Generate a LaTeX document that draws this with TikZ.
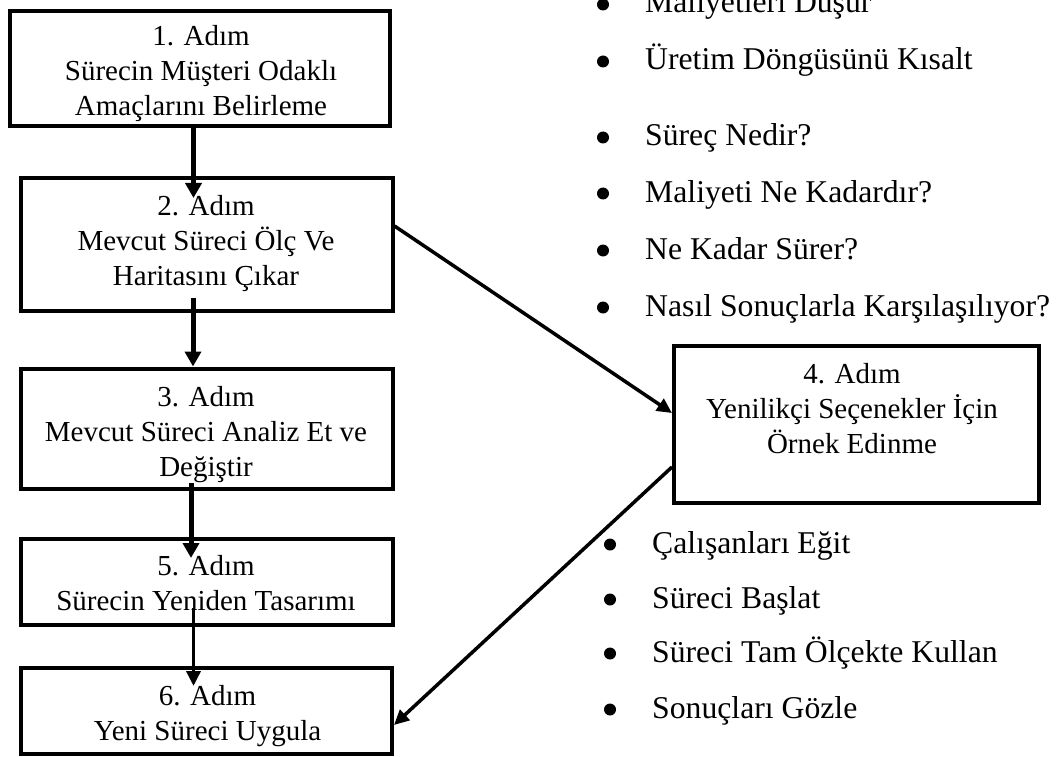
\documentclass[tikz,border=0pt]{standalone}
\usepackage{fontspec}
\setmainfont{Liberation Serif}
\usetikzlibrary{arrows.meta}
\begin{document}
\begin{tikzpicture}[x=1pt,y=-1pt,
  stepbox/.style={draw,line width=4pt,inner sep=0pt},
  steptext/.style={anchor=base,inner sep=0pt,font=\fontsize{29pt}{35pt}\selectfont},
  item/.style={anchor=base west,inner sep=0pt,font=\fontsize{31.7pt}{38pt}\selectfont},
  arr/.style={-{Triangle[length=15pt,width=16pt]},line width=5pt},
  arrthin/.style={-{Triangle[length=15pt,width=14pt]},line width=3.5pt}]
\fill[white] (0,0) rectangle (1058,757);
\useasboundingbox (0,0) rectangle (1058,757);
\clip (0,0) rectangle (1058,757);

% boxes
\node[stepbox,minimum width=380pt,minimum height=115pt] (b1) at (200,68.5) {};
\node[stepbox,minimum width=372pt,minimum height=132pt] (b2) at (206.5,244.5) {};
\node[stepbox,minimum width=372pt,minimum height=120pt] (b3) at (206.5,428.5) {};
\node[stepbox,minimum width=365pt,minimum height=156.5pt] (b4) at (856.5,424.25) {};
\node[stepbox,minimum width=372pt,minimum height=86.5pt] (b5) at (206.5,581.8) {};
\node[stepbox,minimum width=371pt,minimum height=86.5pt] (b6) at (206.5,710.8) {};

% box texts
\node[steptext] (t1) at (201,46) {\begin{tabular}[t]{@{}c@{}}1. Adım\\Sürecin Müşteri Odaklı\\Amaçlarını Belirleme\end{tabular}};
\node[steptext] (t2) at (206,215) {\begin{tabular}[t]{@{}c@{}}2. Adım\\Mevcut Süreci Ölç Ve\\Haritasını Çıkar\end{tabular}};
\node[steptext] (t3) at (206,406) {\begin{tabular}[t]{@{}c@{}}3. Adım\\Mevcut Süreci Analiz Et ve\\Değiştir\end{tabular}};
\node[steptext] (t4) at (852,383) {\begin{tabular}[t]{@{}c@{}}4. Adım\\Yenilikçi Seçenekler İçin\\Örnek Edinme\end{tabular}};
\node[steptext] (t5) at (206,575) {\begin{tabular}[t]{@{}c@{}}5. Adım\\Sürecin Yeniden Tasarımı\end{tabular}};
\node[steptext] (t6) at (207.5,705) {\begin{tabular}[t]{@{}c@{}}6. Adım\\Yeni Süreci Uygula\end{tabular}};

% bullet lists
\node[item] (u1) at (645,13) {Maliyetleri Düşür};
\node[item] (u2) at (645,70) {Üretim Döngüsünü Kısalt};
\node[item] (m1) at (645,146) {Süreç Nedir?};
\node[item] (m2) at (645,202) {Maliyeti Ne Kadardır?};
\node[item] (m3) at (645,259) {Ne Kadar Sürer?};
\node[item] (m4) at (645,316) {Nasıl Sonuçlarla Karşılaşılıyor?};
\node[item] (l1) at (652,553) {Çalışanları Eğit};
\node[item] (l2) at (652,608) {Süreci Başlat};
\node[item] (l3) at (652,662) {Süreci Tam Ölçekte Kullan};
\node[item] (l4) at (652,718) {Sonuçları Gözle};
\foreach \n in {u1,u2,m1,m2,m3,m4,l1,l2,l3,l4}
  \fill (\n.base west) ++(-42,-8.5) circle (6pt);

% connectors
\coordinate (e12) at (193.5,198);
\draw[arr] (b1.south -| e12) -- (e12);
\coordinate (s23) at (193,298);
\draw[arr] (s23) -- (s23 |- b3.north);
\coordinate (s35) at (191,483);
\coordinate (e35) at (191,558);
\draw[arr] (s35) -- (e35);
\coordinate (s56) at (193.5,608);
\coordinate (e56) at (193.5,686);
\draw[arrthin] (s56) -- (e56);
\coordinate (d1) at (0,226);
\coordinate (d2) at (0,413);
\draw[arrthin] (b2.east |- d1) -- (b4.west |- d2);
\coordinate (d3) at (0,467);
\coordinate (d4) at (0,725);
\draw[arrthin] (b4.west |- d3) -- (b6.east |- d4);
\end{tikzpicture}
\end{document}
